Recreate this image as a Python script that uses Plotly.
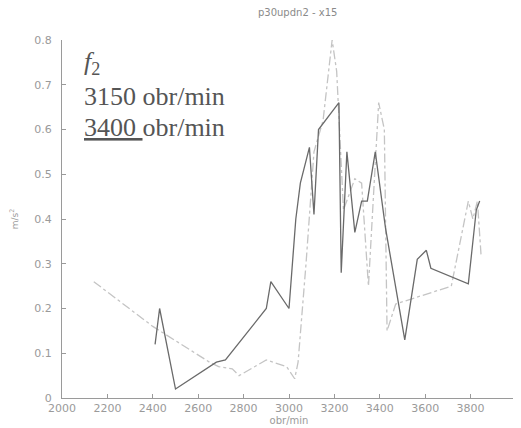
import plotly.graph_objects as go

# Series: 3400 obr/min (darker solid)
x_3400 = [2410, 2430, 2500, 2680, 2720, 2900, 2920, 3000, 3030, 3050, 3090, 3110, 3130,
          3220, 3230, 3255, 3290, 3320, 3345, 3380, 3425, 3510, 3565, 3605, 3625, 3790, 3825, 3840]
y_3400 = [0.12, 0.20, 0.02, 0.08, 0.085, 0.20, 0.26, 0.20, 0.40, 0.48, 0.56, 0.41, 0.60,
          0.66, 0.28, 0.55, 0.37, 0.44, 0.44, 0.55, 0.38, 0.13, 0.31, 0.33, 0.29, 0.255, 0.42, 0.44]

# Series: 3150 obr/min (light dash-dot)
x_3150 = [2140, 2400, 2650, 2690, 2750, 2780, 2900, 2990, 3025, 3040, 3075, 3110, 3150,
          3190, 3210, 3240, 3290, 3320, 3350, 3395, 3420, 3432, 3470, 3715, 3790, 3810, 3830, 3846]
y_3150 = [0.26, 0.16, 0.08, 0.07, 0.065, 0.05, 0.085, 0.07, 0.043, 0.08, 0.30, 0.55, 0.62,
          0.80, 0.73, 0.42, 0.49, 0.48, 0.25, 0.66, 0.60, 0.15, 0.21, 0.25, 0.44, 0.40, 0.44, 0.32]

x_ticks = [2000, 2200, 2400, 2600, 2800, 3000, 3200, 3400, 3600, 3800, 4000]
y_ticks = [0, 0.1, 0.2, 0.3, 0.4, 0.5, 0.6, 0.7, 0.8]
y_tick_labels = ["0", "0.1", "0.2", "0.3", "0.4", "0.5", "0.6", "0.7", "0.8"]

fig = go.Figure()
fig.add_trace(go.Scatter(x=x_3150, y=y_3150, mode="lines", name="3150 obr/min",
                         line=dict(color="#c4c4c4", width=1.3, dash="dashdot")))
fig.add_trace(go.Scatter(x=x_3400, y=y_3400, mode="lines", name="3400 obr/min",
                         line=dict(color="#6a6a6a", width=1.3)))

axis_common = dict(showline=True, linecolor="#9a9a9a", linewidth=1, ticks="inside",
                   ticklen=4, tickcolor="#9a9a9a", showgrid=False, zeroline=False,
                   automargin=False,
                   tickfont=dict(family="DejaVu Sans", size=11, color="#9a9a9a"))

fig.update_xaxes(range=[2000, 4000], tickvals=x_ticks, **axis_common,
                 title=dict(text="obr/min", font=dict(family="DejaVu Sans", size=10, color="#9a9a9a"),
                            standoff=2))
fig.update_yaxes(range=[0, 0.8], tickvals=y_ticks, ticktext=y_tick_labels, **axis_common,
                 ticklabelstandoff=7,
                 title=dict(text="m/s<sup>2</sup>", font=dict(family="DejaVu Sans", size=9, color="#9a9a9a"),
                            standoff=14))

fig.add_annotation(text="<i>f</i><sub>2</sub>", xref="paper", yref="paper", x=0.045, y=0.885,
                   xanchor="left", yanchor="bottom", showarrow=False,
                   font=dict(family="Liberation Serif", size=26, color="#555555"))
fig.add_annotation(text="3150 obr/min", xref="paper", yref="paper", x=0.045, y=0.795,
                   xanchor="left", yanchor="bottom", showarrow=False,
                   font=dict(family="Liberation Serif", size=26, color="#555555"))
fig.add_annotation(text="<u>3400 </u>obr/min", xref="paper", yref="paper", x=0.045, y=0.71,
                   xanchor="left", yanchor="bottom", showarrow=False,
                   font=dict(family="Liberation Serif", size=26, color="#555555"))

fig.update_layout(
    width=521, height=428,
    margin=dict(l=54, r=13, t=32, b=38),
    paper_bgcolor="white", plot_bgcolor="white",
    showlegend=False,
    title=dict(text="p30updn2 - x15", x=0.556, xanchor="center", y=0.998, yanchor="top",
               font=dict(family="DejaVu Sans", size=10, color="#8a8a8a")),
)

fig.write_html("out.html")
